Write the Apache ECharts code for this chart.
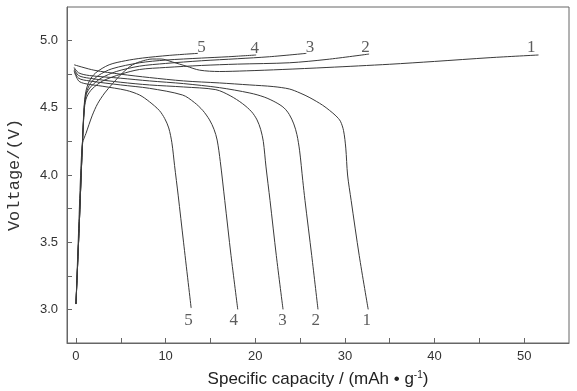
<!DOCTYPE html>
<html>
<head>
<meta charset="utf-8">
<script src="https://cdn.jsdelivr.net/npm/echarts@6/dist/echarts.min.js"></script>
<style>html,body{margin:0;padding:0;background:#fff;}#chart{width:577px;height:391px;}</style>
</head>
<body>
<div id="chart"></div>
<script>
// Charge curves (capacity mAh/g, voltage V)
var charge1 = [[0,3.04],[0.3,3.6],[0.55,4.05],[0.75,4.24],[1.12,4.31],[1.8,4.44],[2.41,4.53],[3.2,4.61],[4.09,4.68],[5.2,4.76],[6.32,4.82],[7.5,4.85],[8.5,4.863],[9.5,4.863],[10.8,4.84],[12.3,4.81],[13.8,4.78],[16,4.77],[19,4.775],[23,4.785],[28,4.80],[35,4.824],[40,4.845],[46.2,4.873],[51.6,4.893]];
var charge2 = [[0,3.04],[0.35,3.6],[0.7,4.2],[0.95,4.5],[1.2,4.58],[1.8,4.64],[3,4.70],[5,4.75],[7.1,4.785],[10,4.80],[14,4.815],[18,4.825],[23.8,4.835],[28,4.86],[32.7,4.90]];
var charge3 = [[0,3.04],[0.35,3.6],[0.7,4.2],[0.93,4.5],[1.15,4.6],[1.7,4.66],[2.8,4.72],[4.5,4.77],[7.1,4.81],[10,4.83],[14,4.85],[18,4.865],[21.6,4.88],[25.7,4.905]];
var charge4 = [[0,3.04],[0.35,3.6],[0.7,4.2],[0.92,4.5],[1.15,4.61],[1.6,4.68],[2.5,4.74],[4,4.79],[7.1,4.835],[10,4.855],[14,4.87],[17,4.88],[20.1,4.893]];
var charge5 = [[0,3.04],[0.35,3.6],[0.7,4.2],[0.9,4.5],[1.1,4.62],[1.5,4.70],[2.2,4.76],[3.7,4.82],[5.5,4.85],[7.4,4.87],[10.4,4.89],[13.6,4.905]];
// Discharge curves
var discharge1 = [[-0.2,4.82],[2,4.78],[5,4.75],[8.2,4.725],[12,4.70],[16,4.685],[19.4,4.67],[22,4.658],[23.8,4.64],[25,4.61],[26.1,4.575],[27.5,4.52],[28.3,4.48],[29,4.44],[29.5,4.40],[29.85,4.33],[30.1,4.2],[30.3,4.0],[30.7,3.81],[31.6,3.4],[32.6,3.0]];
var discharge2 = [[-0.2,4.80],[0.3,4.76],[1.5,4.74],[5,4.72],[8.2,4.70],[12,4.68],[16,4.65],[19.4,4.61],[21,4.58],[22.3,4.54],[23.2,4.50],[23.8,4.45],[24.3,4.38],[24.65,4.30],[24.95,4.18],[25.3,3.96],[25.55,3.81],[26.3,3.4],[27.0,3.0]];
var discharge3 = [[-0.2,4.79],[0.3,4.74],[1.5,4.72],[5,4.69],[8.2,4.67],[12,4.655],[15.6,4.635],[17.2,4.59],[18.6,4.53],[19.6,4.47],[20.2,4.41],[20.6,4.34],[20.9,4.25],[21.2,4.06],[21.65,3.81],[22.35,3.4],[23.1,3.0]];
var discharge4 = [[-0.2,4.78],[0.3,4.72],[1.5,4.70],[5,4.67],[8.2,4.645],[11.9,4.595],[13.2,4.54],[14.15,4.48],[14.9,4.41],[15.4,4.34],[15.75,4.26],[16.1,4.10],[16.6,3.81],[17.3,3.4],[18.05,3.0]];
var discharge5 = [[-0.2,4.77],[0.3,4.70],[1,4.68],[3,4.66],[5.6,4.63],[7.1,4.595],[8.2,4.545],[9.3,4.48],[9.9,4.42],[10.35,4.35],[10.7,4.24],[11.0,4.07],[11.4,3.85],[12.0,3.5],[12.85,3.01]];
// Cycle labels
var chargeLabels = [[50.8,4.945,'1'],[32.3,4.945,'2'],[26.1,4.95,'3'],[19.95,4.94,'4'],[14.0,4.945,'5']];
var dischargeLabels = [[32.45,2.915,'1'],[26.75,2.92,'2'],[23.05,2.915,'3'],[17.6,2.915,'4'],[12.55,2.915,'5']];
// Axis ticks
var xTicks = [0,5,10,15,20,25,30,35,40,45,50];
var xTickLabels = [0,10,20,30,40,50];
var yTicks = [3,3.25,3.5,3.75,4,4.25,4.5,4.75,5];
var yTickLabels = [3,3.5,4,4.5,5];

var curves = [charge1,charge2,charge3,charge4,charge5,discharge1,discharge2,discharge3,discharge4,discharge5];
var series = curves.map(function(d){
  return {type:'line', data:d, showSymbol:false, smooth:0.3, silent:true,
    lineStyle:{color:'#3a3a3a', width:1}};
});
function labelSeries(arr){
  return {type:'scatter', symbolSize:1, itemStyle:{color:'rgba(0,0,0,0)'}, silent:true,
    data:arr.map(function(p){return {value:[p[0],p[1]], name:p[2]};}),
    label:{show:true, position:'inside', formatter:function(p){return p.name;},
      fontFamily:'Liberation Serif', fontSize:17, color:'#333'}};
}
series.push(labelSeries(chargeLabels));
series.push(labelSeries(dischargeLabels));

var chart = echarts.init(document.getElementById('chart'), null, {renderer:'canvas'});
chart.setOption({
  animation:false,
  backgroundColor:'#fff',
  grid:{left:67, right:8, top:7, bottom:48, show:true, borderColor:'#666', borderWidth:1, containLabel:false, outerBoundsMode:'none'},
  xAxis:{type:'value', min:-1, max:55,
    name:'{t|Specific capacity / (mAh • g}{s|-1}{t|)}', nameLocation:'middle', nameGap:27,
    nameTextStyle:{rich:{t:{fontFamily:'Liberation Sans', fontSize:17, color:'#222'}, s:{fontFamily:'Liberation Sans', fontSize:10, color:'#222', verticalAlign:'top', padding:[0,0,8,0]}}},
    axisLine:{onZero:false, lineStyle:{color:'#666', width:1}},
    axisTick:{inside:true, length:5, customValues:xTicks, lineStyle:{color:'#666'}},
    axisLabel:{customValues:xTickLabels, margin:7, fontFamily:'Liberation Sans', fontSize:13, color:'#333'},
    splitLine:{show:false}},
  yAxis:{type:'value', min:2.75, max:5.25,
    name:'Voltage/(V)', nameLocation:'middle', nameGap:44, nameRotate:90,
    nameTextStyle:{fontFamily:'Liberation Mono', fontSize:17, color:'#333'},
    axisLine:{onZero:false, lineStyle:{color:'#666', width:1}},
    axisTick:{inside:true, length:5, customValues:yTicks, lineStyle:{color:'#666'}},
    axisLabel:{customValues:yTickLabels, margin:9, fontFamily:'Liberation Sans', fontSize:13, color:'#333',
      formatter:function(v){return Number(v).toFixed(1);}},
    splitLine:{show:false}},
  series:series
});
</script>
</body>
</html>
